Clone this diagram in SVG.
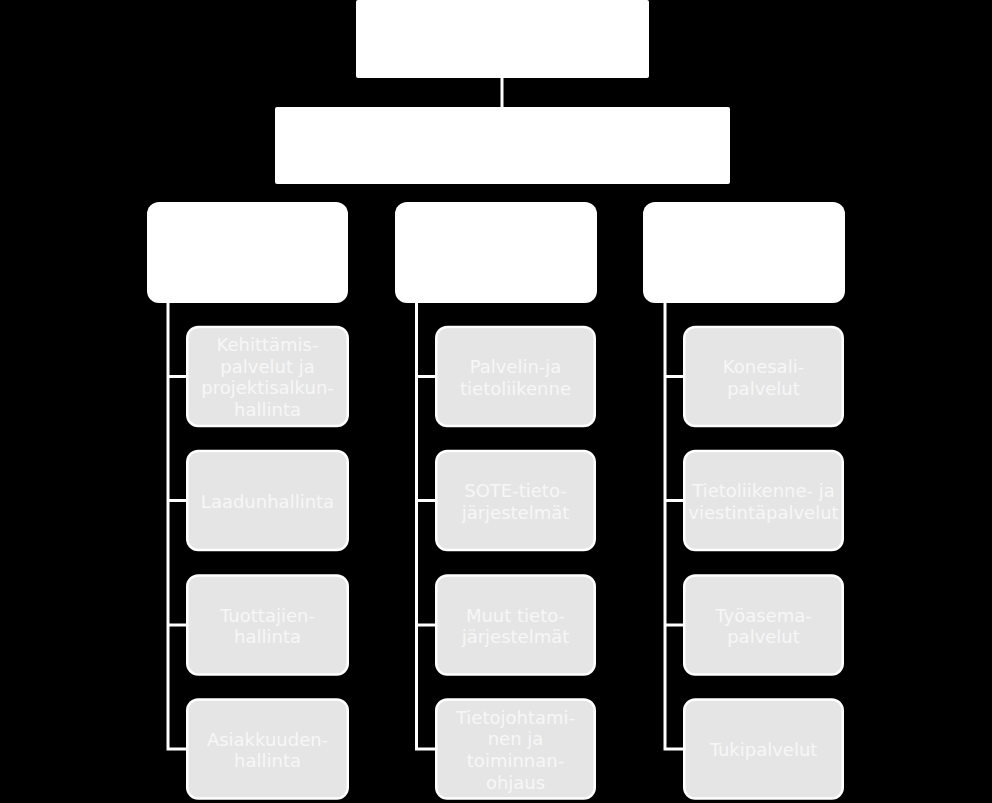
<svg xmlns="http://www.w3.org/2000/svg" width="992" height="803" viewBox="0 0 992 803">
<style>
.bg{fill:#000}
.top{fill:#fff}
.head{fill:#fff}
.child{fill:#e5e5e5;stroke:#fff;stroke-width:2.5}
.conn{stroke:#fff;stroke-width:3;fill:none}
.t{font-family:"DejaVu Sans","Liberation Sans",sans-serif;font-size:18px;fill:#f7f7f7;text-anchor:middle}
</style>
<rect class="bg" x="0" y="0" width="992" height="803"/>
<g id="connectors">
<line class="conn" x1="502" y1="77" x2="502" y2="108"/>
<polyline class="conn" points="168,302 168,749 187,749"/>
<line class="conn" x1="168" y1="376.5" x2="187" y2="376.5"/>
<line class="conn" x1="168" y1="500.5" x2="187" y2="500.5"/>
<line class="conn" x1="168" y1="625" x2="187" y2="625"/>
<polyline class="conn" points="416.5,302 416.5,749 436,749"/>
<line class="conn" x1="416.5" y1="376.5" x2="436" y2="376.5"/>
<line class="conn" x1="416.5" y1="500.5" x2="436" y2="500.5"/>
<line class="conn" x1="416.5" y1="625" x2="436" y2="625"/>
<polyline class="conn" points="665,302 665,749 684,749"/>
<line class="conn" x1="665" y1="376.5" x2="684" y2="376.5"/>
<line class="conn" x1="665" y1="500.5" x2="684" y2="500.5"/>
<line class="conn" x1="665" y1="625" x2="684" y2="625"/>
</g>
<g id="n-top"><rect class="top" x="356" y="0" width="293" height="78" rx="2"/></g>
<g id="n-second"><rect class="top" x="275" y="107" width="455" height="77" rx="2"/></g>
<g id="n-head1"><rect class="head" x="147" y="202" width="201" height="101" rx="12"/></g>
<g id="n-head2"><rect class="head" x="395" y="202" width="202" height="101" rx="12"/></g>
<g id="n-head3"><rect class="head" x="643" y="202" width="202" height="101" rx="12"/></g>

<g id="n-l1"><rect class="child" x="187.25" y="327" width="160.5" height="99" rx="11"/>
<text class="t"><tspan x="267.5" y="351">Kehittämis-</tspan><tspan x="267.5" y="372.7">palvelut ja</tspan><tspan x="267.5" y="394.3">projektisalkun-</tspan><tspan x="267.5" y="416">hallinta</tspan></text></g>
<g id="n-l2"><rect class="child" x="187.25" y="451" width="160.5" height="99" rx="11"/>
<text class="t" x="267.5" y="507.5">Laadunhallinta</text></g>
<g id="n-l3"><rect class="child" x="187.25" y="575.5" width="160.5" height="99" rx="11"/>
<text class="t"><tspan x="267.5" y="621.5">Tuottajien-</tspan><tspan x="267.5" y="643.2">hallinta</tspan></text></g>
<g id="n-l4"><rect class="child" x="187.25" y="699.5" width="160.5" height="99" rx="11"/>
<text class="t"><tspan x="267.5" y="745.5">Asiakkuuden-</tspan><tspan x="267.5" y="767.2">hallinta</tspan></text></g>

<g id="n-m1"><rect class="child" x="436.25" y="327" width="158.5" height="99" rx="11"/>
<text class="t"><tspan x="515.5" y="373">Palvelin-ja</tspan><tspan x="515.5" y="394.7">tietoliikenne</tspan></text></g>
<g id="n-m2"><rect class="child" x="436.25" y="451" width="158.5" height="99" rx="11"/>
<text class="t"><tspan x="515.5" y="497">SOTE-tieto-</tspan><tspan x="515.5" y="518.7">järjestelmät</tspan></text></g>
<g id="n-m3"><rect class="child" x="436.25" y="575.5" width="158.5" height="99" rx="11"/>
<text class="t"><tspan x="515.5" y="621.5">Muut tieto-</tspan><tspan x="515.5" y="643.2">järjestelmät</tspan></text></g>
<g id="n-m4"><rect class="child" x="436.25" y="699.5" width="158.5" height="99" rx="11"/>
<text class="t"><tspan x="515.5" y="723.5">Tietojohtami-</tspan><tspan x="515.5" y="745.2">nen ja</tspan><tspan x="515.5" y="766.8">toiminnan-</tspan><tspan x="515.5" y="788.5">ohjaus</tspan></text></g>

<g id="n-r1"><rect class="child" x="684.25" y="327" width="158.5" height="99" rx="11"/>
<text class="t"><tspan x="763.5" y="373">Konesali-</tspan><tspan x="763.5" y="394.7">palvelut</tspan></text></g>
<g id="n-r2"><rect class="child" x="684.25" y="451" width="158.5" height="99" rx="11"/>
<text class="t"><tspan x="763.5" y="497">Tietoliikenne- ja</tspan><tspan x="763.5" y="518.7">viestintäpalvelut</tspan></text></g>
<g id="n-r3"><rect class="child" x="684.25" y="575.5" width="158.5" height="99" rx="11"/>
<text class="t"><tspan x="763.5" y="621.5">Työasema-</tspan><tspan x="763.5" y="643.2">palvelut</tspan></text></g>
<g id="n-r4"><rect class="child" x="684.25" y="699.5" width="158.5" height="99" rx="11"/>
<text class="t" x="763.5" y="756">Tukipalvelut</text></g>
</svg>
